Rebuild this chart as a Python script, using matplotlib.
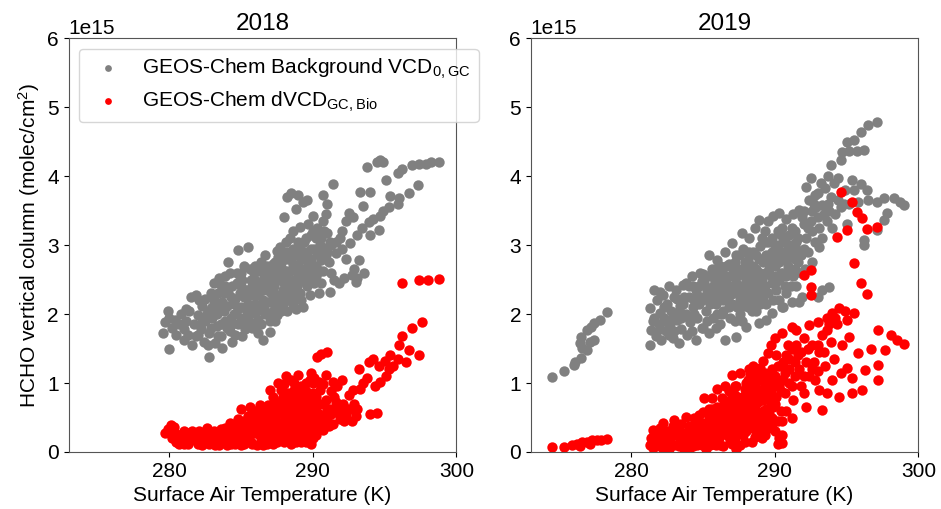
import numpy as np
import matplotlib.pyplot as plt

plt.rcParams['font.family'] = ['Liberation Sans', 'DejaVu Sans']
plt.rcParams['mathtext.default'] = 'regular'

# (surface air temperature [K], HCHO column [1e15 molec/cm2])
bg_2018 = [
    (279.6,1.73),(279.7,1.88),(279.9,2.05),(280.0,1.95),(280.0,1.50),(280.2,1.80),(280.4,1.92),(280.5,1.70),
    (280.7,1.85),(280.8,2.00),(281.0,1.62),(281.0,1.78),(281.2,1.90),(281.3,1.70),(281.4,2.05),(281.5,2.25),
    (281.6,1.55),(281.7,1.85),(281.9,2.28),(281.9,1.68),(282.0,1.98),(282.2,1.78),(282.3,2.12),(282.4,1.60),
    (282.5,1.90),(282.7,2.05),(282.8,1.38),(282.8,1.72),(283.0,1.95),(283.1,2.20),(283.2,1.58),(283.3,1.82),
    (283.5,2.52),(283.5,2.05),(283.6,1.68),(283.7,1.51),(283.8,2.30),(283.9,1.90),(284.0,2.12),(284.1,2.75),
    (284.2,1.75),(284.4,1.59),(284.4,2.40),(284.5,2.00),(284.6,2.22),(284.8,2.93),(284.8,1.85),(285.0,2.60),
    (285.0,2.10),(285.1,1.68),(285.3,2.35),(285.4,1.95),(285.5,2.97),(285.5,2.15),(285.7,2.50),(285.8,1.80),
    (285.9,2.28),(286.0,2.70),(286.1,2.05),(286.2,1.92),(286.3,2.45),(286.4,2.62),(286.5,1.62),(286.5,2.20),
    (286.7,2.85),(286.8,2.35),(286.9,2.00),(287.0,1.74),(287.0,2.55),(287.1,2.18),(287.2,2.72),(287.3,2.40),
    (287.4,1.90),(287.5,2.92),(287.6,2.60),(287.7,2.97),(287.7,2.25),(287.8,2.05),(287.9,2.78),(288.0,2.45),
    (288.0,3.40),(288.1,3.05),(288.2,3.70),(288.2,2.62),(288.3,2.20),(288.4,2.90),(288.5,3.76),(288.5,2.40),
    (288.6,3.20),(288.7,2.70),(288.8,3.52),(288.8,2.08),(288.9,2.95),(289.0,3.72),(289.0,2.55),(289.1,3.26),
    (289.2,2.80),(289.3,2.10),(289.3,3.62),(289.4,3.05),(289.5,2.45),(289.6,3.65),(289.6,2.90),(289.7,3.30),
    (289.8,2.27),(289.8,2.70),(289.9,3.15),(290.0,3.42),(290.1,2.95),(290.2,2.55),(290.3,3.25),(290.4,2.30),
    (290.5,3.00),(290.6,2.78),(290.7,3.72),(290.7,3.35),(290.8,2.96),(291.0,3.60),(291.0,3.18),(291.1,2.75),
    (291.2,2.32),(291.3,3.00),(291.4,3.88),(291.5,2.50),(291.6,3.05),(291.8,2.45),(292.0,3.20),(292.0,2.95),
    (292.2,2.52),(292.3,3.35),(292.5,3.46),(292.6,3.03),(292.7,2.56),(292.8,3.40),(293.0,2.47),(293.1,3.15),
    (293.2,2.78),(293.3,3.77),(293.4,3.25),(293.5,3.56),(293.8,4.13),(293.9,3.33),(294.0,3.77),(294.0,3.15),
    (294.2,3.38),(294.5,4.21),(294.6,3.22),(294.7,3.42),(294.7,4.23),(294.9,4.20),(294.9,3.50),(295.1,3.94),
    (295.3,3.55),(295.4,3.71),(295.9,3.60),(295.9,4.05),(296.0,3.68),(296.2,4.10),(296.7,3.75),(296.9,4.16),
    (297.3,3.87),(297.4,4.17),(297.9,4.18),(298.2,4.20),(298.8,4.21),
    (284.3,1.95),(284.7,2.45),(285.2,2.25),(285.6,2.65),(285.9,2.02),(286.1,2.40),(286.6,2.55),(286.6,2.08),
    (287.1,2.30),(287.4,2.50),(287.6,2.15),(287.9,2.35),(288.1,2.55),(288.3,2.80),(288.5,2.30),(288.6,2.95),
    (288.9,2.40),(289.0,2.85),(289.2,2.50),(289.4,2.65),(289.5,3.10),(289.7,2.50),(290.0,2.60),(290.2,3.10),
    (290.4,2.85),(286.0,1.80),(285.3,1.78),(284.9,2.30),(283.4,2.30),(282.9,2.30),(283.9,2.55),(284.2,2.60),
    (285.8,2.40),(286.9,2.65),(287.2,2.05),(288.7,2.25),(289.9,2.95),(290.9,3.45),(290.6,3.10),(288.4,3.10),
    (287.8,2.85),(286.4,2.75),(283.0,2.10),(282.5,2.22),(281.2,2.08),
    (282.0,1.70),(282.3,1.88),(282.6,2.00),(282.9,1.80),(283.2,2.15),(283.6,1.85),(283.7,2.18),(284.0,1.80),
    (284.3,2.25),(284.6,1.70),(284.8,2.08),(285.1,2.50),(285.2,1.90),(285.5,2.35),(285.7,2.05),(285.9,2.60),
    (286.2,2.28),(286.4,1.85),(286.7,2.45),(286.9,2.18),(287.1,2.62),(287.3,2.30),(287.5,1.98),(287.7,2.50),
    (287.9,2.15),(288.1,2.35),(288.2,2.90),(288.4,2.62),(288.6,2.15),(288.7,2.50),(288.9,2.62),(289.1,2.30),
    (289.1,2.95),(289.3,2.80),(289.5,2.58),(289.7,2.75),(289.9,2.50),(290.0,3.20),(290.2,2.70),(290.5,2.62),
    (290.6,2.45),(290.8,3.20),(291.0,2.90),(286.0,2.15),(285.0,2.40),(284.5,2.15),(283.9,2.40),(283.3,2.00),
    (286.8,2.52),(287.4,2.75),(288.0,2.62),(288.8,2.85),(289.6,2.40),(287.0,1.90),(286.3,2.10),(285.6,1.88),
    (282.1,2.20),(282.7,1.55),(283.4,1.68),(283.8,2.05),(284.1,2.30),(284.4,1.85),(284.7,2.60),(285.0,1.95),
    (285.2,2.70),(285.4,2.05),(285.7,2.28),(286.0,2.50),(286.2,1.72),(286.5,2.35),(286.7,2.00),(287.0,2.42),
    (287.3,2.62),(287.5,2.20),(287.8,2.68),(288.0,2.30),(288.2,2.05),(288.4,2.48),(288.6,2.72),(288.8,2.35),
    (289.0,2.70),(289.2,2.20),(289.4,2.90),(289.6,2.62),(289.9,2.80),(290.1,2.45),(290.3,2.90),(290.5,3.15),
    (290.7,2.62),(290.9,2.85),(291.2,3.05),(291.3,2.60),(291.6,2.88),(291.9,3.10),(292.3,2.80),(292.9,2.65),
    (293.6,2.60),(293.1,2.52),(289.0,3.05),(288.6,2.85),(287.6,2.82),(286.8,2.70),(286.0,2.30),(284.9,2.55),
    (283.6,2.42),(283.1,2.45),
]

bio_2018 = [
    (279.7,0.27),(279.9,0.33),(280.1,0.39),(280.3,0.36),(280.2,0.20),(280.5,0.15),(280.7,0.25),(281.0,0.12),
    (281.2,0.22),(281.5,0.18),(281.8,0.26),(282.0,0.12),(282.2,0.22),(282.5,0.15),(282.7,0.28),(283.0,0.18),
    (283.2,0.10),(283.4,0.25),(283.6,0.33),(283.8,0.15),(284.0,0.22),(284.2,0.42),(284.3,0.12),(284.5,0.30),
    (284.7,0.20),(284.8,0.48),(285.0,0.10),(285.1,0.35),(285.3,0.22),(285.5,0.52),(285.6,0.65),(285.7,0.15),
    (285.8,0.38),(286.0,0.28),(286.1,0.10),(286.2,0.55),(286.3,0.68),(286.4,0.20),(286.5,0.42),(286.7,0.32),
    (286.8,0.12),(286.9,0.68),(287.0,0.50),(287.1,0.25),(287.2,0.80),(287.3,0.38),(287.5,0.15),(287.6,0.60),
    (287.6,1.00),(287.8,0.90),(287.8,0.30),(288.0,0.72),(288.0,0.45),(288.1,1.10),(288.2,0.20),(288.3,0.85),
    (288.4,0.55),(288.5,1.05),(288.5,0.12),(288.6,0.35),(288.7,0.70),(288.8,0.95),(288.9,0.25),(289.0,1.12),
    (289.0,0.50),(289.1,0.80),(289.2,0.15),(289.3,0.62),(289.4,0.38),(289.5,1.00),(289.5,0.88),(289.6,0.22),
    (289.7,0.70),(289.8,0.45),(289.9,1.15),(289.9,0.12),(290.0,0.85),(290.1,0.30),(290.2,0.60),(290.3,1.38),
    (290.4,1.02),(290.5,0.42),(290.6,1.42),(290.7,0.32),(290.7,0.98),(290.9,0.75),(291.0,1.45),(291.0,0.50),
    (291.2,0.62),(291.3,0.88),(291.4,0.40),(291.4,1.02),(291.6,0.58),(291.7,0.95),(291.9,0.48),(292.0,1.04),
    (292.1,0.70),(292.3,0.55),(292.5,0.82),(292.7,0.45),(292.8,0.90),(293.0,0.52),(293.1,0.62),(293.2,1.20),
    (293.3,0.92),(293.5,1.00),(293.8,1.08),(293.9,1.30),(294.0,0.55),(294.2,1.35),(294.3,0.95),(294.5,0.56),
    (294.6,1.25),(294.7,1.02),(295.0,1.32),(295.1,1.10),(295.3,1.20),(295.4,1.40),(295.6,1.25),(295.9,1.35),
    (296.0,1.55),(296.2,1.68),(296.2,2.45),(296.5,1.30),(296.7,1.48),(296.9,1.80),(297.4,1.41),(297.6,1.88),
    (297.4,2.49),(298.0,2.50),(298.8,2.51),
    (284.1,0.32),(284.6,0.40),(285.2,0.45),(285.4,0.30),(285.9,0.48),(286.2,0.35),(286.6,0.58),(286.9,0.40),
    (287.2,0.62),(287.4,0.48),(287.7,0.72),(287.9,0.55),(288.2,0.62),(288.6,0.80),(288.9,0.60),(289.2,0.95),
    (289.4,0.75),(289.7,0.55),(290.0,0.65),(289.2,0.40),(288.3,0.35),(287.3,0.20),(286.5,0.10),(285.2,0.12),
    (284.0,0.10),(283.1,0.30),(282.6,0.35),(281.0,0.30),(280.7,0.12),(285.6,0.28),(287.0,0.90),(288.0,0.98),
    (286.0,0.60),(285.0,0.62),
    (280.4,0.28),(280.9,0.20),(281.3,0.12),(281.6,0.30),(281.9,0.18),(282.3,0.10),(282.4,0.28),(282.9,0.24),
    (283.3,0.16),(283.5,0.10),(283.7,0.25),(283.9,0.35),(284.2,0.18),(284.4,0.25),(284.6,0.12),(284.9,0.28),
    (285.0,0.40),(285.3,0.35),(285.5,0.20),(285.8,0.12),(285.9,0.30),(286.1,0.45),(286.3,0.25),(286.6,0.18),
    (286.7,0.45),(286.9,0.25),(287.0,0.35),(287.2,0.12),(287.4,0.28),(287.5,0.72),(287.6,0.40),(287.8,0.20),
    (287.9,0.65),(288.1,0.28),(288.2,0.48),(288.4,0.70),(288.5,0.22),(288.6,0.62),(288.7,0.40),(288.8,0.15),
    (288.9,0.75),(289.1,0.30),(289.1,0.55),(289.3,0.45),(289.4,0.20),(289.5,0.62),(289.6,0.85),(289.8,0.30),
    (289.8,0.78),(290.0,0.20),(290.0,0.45),(290.2,0.80),(290.3,0.40),(290.5,0.70),(290.6,0.52),(291.1,0.38),
    (291.5,0.80),(291.8,0.68),(292.2,0.45),(292.4,0.62),(292.9,0.70),(290.9,1.12),(290.1,1.08),
    (281.4,0.28),(282.1,0.30),(282.8,0.12),(283.5,0.20),(284.3,0.35),(284.8,0.38),(285.3,0.28),(285.6,0.48),
    (286.0,0.38),(286.3,0.52),(286.5,0.30),(286.8,0.55),(287.1,0.45),(287.3,0.70),(287.5,0.55),(287.7,0.35),
    (287.9,0.80),(288.0,0.15),(288.1,0.40),(288.2,0.80),(288.4,0.45),(288.6,0.50),(288.7,0.90),(288.8,0.55),
    (289.0,0.30),(289.0,0.68),(289.2,0.85),(289.3,0.30),(289.4,0.55),(289.5,0.15),(289.6,0.72),(289.7,0.38),
    (289.9,0.55),(290.1,0.75),(290.2,0.25),(290.4,0.55),(290.5,0.90),(290.8,0.45),(291.0,0.62),(291.3,0.55),
    (291.6,0.72),(292.0,0.58),(292.6,0.62),(290.0,1.00),(289.8,1.05),(288.7,1.00),
]

bg_2019 = [
    (274.5,1.09),(275.3,1.17),(276.0,1.26),(276.1,1.31),(276.5,1.36),(276.6,1.51),(276.4,1.58),(276.9,1.48),
    (277.1,1.60),(277.4,1.62),(276.5,1.67),(276.9,1.77),(277.2,1.81),(277.4,1.87),(277.8,1.91),(278.3,2.03),
    (281.3,2.09),(281.3,1.55),(281.4,1.77),(281.5,1.90),(281.6,2.35),(281.7,1.68),(281.8,2.20),(281.9,1.85),
    (282.0,2.02),(282.1,1.62),(282.2,2.28),(282.3,1.95),(282.4,1.75),(282.5,2.15),(282.6,2.40),(282.7,1.85),
    (282.8,2.05),(282.9,1.65),(283.0,2.25),(283.1,2.35),(283.2,1.92),(283.3,1.58),(283.4,2.12),(283.5,1.78),
    (283.6,2.42),(283.8,2.45),(283.8,2.00),(283.9,1.70),(284.0,2.25),
    (284.1,1.88),(284.2,2.55),(284.3,2.10),(284.5,1.62),(284.5,2.35),(284.6,1.95),(284.8,2.60),(284.9,2.20),
    (285.0,1.80),(285.1,2.45),(285.2,2.05),(285.4,2.86),(285.4,1.72),(285.5,2.30),(285.6,2.65),(285.7,1.95),
    (285.8,2.50),(285.9,2.15),(286.0,2.78),(286.1,2.35),(286.2,1.85),(286.3,2.60),(286.4,2.05),(286.5,1.62),
    (286.5,2.90),(286.6,2.45),(286.7,2.20),(286.8,2.72),(286.9,1.95),(287.0,3.03),(287.0,2.55),(287.1,2.30),
    (287.3,1.67),(287.3,2.85),(287.4,2.10),(287.5,2.65),(287.6,2.40),(287.7,3.17),(287.7,1.90),(287.8,2.95),
    (287.9,2.55),
    (288.0,1.81),(288.0,2.25),(288.1,2.78),(288.2,3.10),(288.3,2.45),(288.4,2.05),(288.5,2.90),(288.6,3.25),
    (288.7,2.65),(288.8,2.25),(288.9,1.87),(288.9,3.36),(289.0,2.98),(289.1,2.50),(289.2,2.75),(289.3,3.20),
    (289.4,2.15),(289.5,3.35),(289.6,2.85),(289.7,2.55),(289.8,2.01),(289.8,3.10),(289.9,3.42),(290.0,2.70),
    (290.1,2.35),(290.2,3.00),(290.3,3.46),(290.4,2.85),(290.5,2.10),(290.5,3.25),(290.6,2.60),(290.8,3.38),
    (290.9,2.95),(291.0,3.15),(291.1,2.40),(291.2,2.17),(291.3,3.45),(291.4,2.80),(291.5,3.05),(291.7,3.51),
    (291.8,2.60),(291.9,2.25),(292.0,3.30),(292.0,2.95),
    (292.2,3.84),(292.5,3.97),(292.4,3.65),(292.6,3.50),(292.8,3.72),(293.0,3.40),(293.1,3.25),(293.3,3.58),
    (293.5,3.83),(293.6,3.35),(293.9,3.70),(293.9,4.16),(294.1,3.90),(294.2,3.45),(294.4,3.97),(294.6,4.23),
    (294.6,3.55),(294.7,4.35),(294.9,3.80),(295.0,4.49),(295.0,3.30),(295.2,3.60),(295.2,4.37),(295.4,3.95),
    (295.5,4.52),(295.7,4.36),(295.8,3.62),(296.0,4.64),(296.0,3.88),(296.2,4.38),(296.2,3.00),(296.2,3.07),
    (296.4,3.80),(296.5,4.74),(296.5,3.65),(297.1,4.78),(297.1,3.22),(297.1,3.63),(297.6,3.36),(297.8,3.46),
    (297.6,3.68),(298.3,3.68),(298.7,3.62),(299.0,3.58),
    (293.3,2.35),(293.8,2.39),(293.0,2.25),(291.7,2.17),(290.6,2.10),(289.4,1.91),
    (284.7,2.40),(285.3,2.55),(285.9,2.40),(286.3,2.25),(286.9,2.40),(287.2,2.75),(287.6,2.20),(288.2,2.60),
    (288.6,2.40),(288.9,2.80),(289.3,2.60),(289.6,3.05),(290.0,2.45),(290.3,2.75),(290.7,2.80),(291.0,2.60),
    (289.0,2.30),(288.0,2.90),(287.0,2.15),(286.0,2.00),(285.0,2.25),(290.4,3.15),(291.6,2.75),(292.2,3.10),
    (292.6,2.75),(293.1,2.97),(291.2,2.83),(291.5,2.95),(292.8,3.05),
    (281.6,1.95),(282.0,1.78),(282.3,2.10),(282.6,1.70),(282.9,1.95),(283.2,2.22),(283.5,1.95),(283.7,2.25),
    (284.0,2.40),(284.2,1.75),(284.4,2.00),(284.7,2.15),(284.9,1.80),(285.0,2.58),(285.3,1.90),(285.5,2.15),
    (285.7,2.40),(285.9,1.80),(286.1,2.55),(286.3,2.00),(286.6,2.70),(286.8,2.10),(287.0,2.38),(287.2,1.90),
    (287.4,2.55),(287.6,2.00),(287.8,2.30),(288.0,2.50),(288.1,2.10),(288.3,2.70),(288.4,2.30),(288.6,2.55),
    (288.7,2.05),(288.9,2.60),(289.0,2.15),(289.1,3.10),(289.2,2.40),(289.4,2.85),(289.5,2.30),(289.7,2.75),
    (289.8,2.45),(290.0,2.95),(290.1,2.55),(290.3,2.20),(290.4,2.60),(290.6,3.05),(290.7,2.40),(290.9,2.70),
    (291.1,3.00),(291.3,2.55),(291.4,3.20),(291.7,2.90),(291.9,3.40),(292.1,2.65),(292.3,3.25),(292.6,3.20),
    (292.9,3.55),(293.3,3.10),(293.7,3.60),(294.0,3.25),(294.4,3.65),(294.8,3.60),(295.5,3.80),(293.2,3.90),
    (293.7,4.00),(285.8,2.65),(286.5,2.35),(287.9,2.75),(288.5,2.15),(290.8,2.30),(291.5,2.40),
    (282.0,2.32),(282.5,1.88),(283.0,1.75),(283.3,2.05),(283.6,2.15),(284.0,1.95),(284.3,2.40),(284.6,2.28),
    (284.9,2.48),(285.2,2.22),(285.5,2.55),(285.8,2.25),(286.0,2.42),(286.2,2.70),(286.4,2.20),(286.7,2.55),
    (286.9,2.28),(287.1,2.65),(287.3,2.45),(287.5,2.85),(287.7,2.60),(287.8,2.12),(288.0,2.65),(288.2,2.90),
    (288.3,2.20),(288.5,2.70),(288.7,2.85),(288.8,2.45),(289.0,2.60),(289.1,2.80),(289.3,2.40),(289.4,3.05),
    (289.6,2.65),(289.8,2.90),(289.9,2.20),(290.1,2.80),(290.2,3.20),(290.3,2.50),(290.5,2.90),(290.7,3.10),
    (290.8,2.55),(291.0,2.90),(291.2,3.25),(291.4,2.65),(291.6,3.10),(291.8,2.85),(292.0,3.50),(292.3,2.90),
    (292.5,3.35),(292.7,3.60),(293.0,3.75),(293.4,3.45),(293.8,3.50),(289.2,2.20),(288.2,2.40),(287.3,2.30),
    (286.3,2.45),(285.3,2.35),(284.4,2.20),
]

bio_2019 = [
    (274.5,0.07),(275.3,0.07),(275.9,0.10),(276.2,0.12),(276.6,0.14),(276.9,0.15),(277.3,0.17),(277.6,0.17),
    (277.9,0.18),(278.3,0.19),(276.4,0.08),(277.1,0.12),
    (281.3,0.10),(281.4,0.20),(281.5,0.06),(281.7,0.15),(281.8,0.30),(282.0,0.08),(282.1,0.22),(282.2,0.42),
    (282.3,0.12),(282.5,0.30),(282.6,0.05),(282.7,0.18),(282.9,0.38),(283.0,0.46),(283.0,0.10),(283.2,0.25),
    (283.4,0.15),(283.5,0.40),(283.7,0.05),(283.8,0.51),(283.8,0.28),(284.0,0.18),(284.2,0.38),(284.3,0.08),
    (284.5,0.25),(284.7,0.53),(284.7,0.45),(284.8,0.15),(285.0,0.35),(285.1,0.78),(285.2,0.05),(285.3,0.22),
    (285.4,0.50),(285.6,0.78),(285.6,0.62),(285.7,0.12),(285.8,0.35),(286.0,0.45),(286.1,0.20),(286.3,0.78),
    (286.3,0.65),(286.4,0.08),(286.5,0.30),(286.6,0.52),(286.8,0.88),(286.9,0.18),(287.0,1.12),(287.0,0.70),
    (287.1,0.40),(287.3,0.05),(287.3,0.95),(287.4,0.58),(287.5,0.28),(287.6,1.15),(287.7,0.80),(287.8,0.45),
    (287.9,0.15),(288.0,1.00),(288.1,0.65),(288.2,0.35),(288.3,1.13),(288.4,0.85),(288.5,0.50),(288.6,0.22),
    (288.7,1.05),(288.8,0.72),(288.9,1.15),(289.0,0.40),(289.1,0.90),(289.2,0.60),(289.3,0.25),(289.4,1.10),
    (289.5,1.43),(289.5,0.78),(289.7,1.55),(289.8,0.50),(289.9,1.00),(290.0,1.65),(290.0,0.70),(290.2,1.25),
    (290.3,0.20),(290.4,0.88),(290.5,1.72),(290.5,0.13),(290.6,1.05),(290.8,0.60),
    (284.0,0.38),(284.4,0.50),(285.0,0.58),(285.5,0.40),(286.0,0.65),(286.5,0.70),(286.9,0.50),(287.2,0.82),
    (287.6,0.65),(288.0,0.85),(288.3,0.58),(288.6,0.95),(289.0,0.80),(289.3,0.95),(289.7,0.85),(290.1,0.95),
    (288.8,0.30),(287.8,0.25),(286.8,0.30),(285.9,0.20),(284.9,0.10),(289.6,0.35),(290.2,0.45),(287.2,0.20),
    (288.2,1.20),(289.0,1.22),
    (291.0,1.35),(291.2,1.81),(291.2,1.50),(291.2,0.49),(291.4,1.10),(291.5,1.77),(291.6,1.40),(291.8,0.95),
    (292.0,2.56),(292.0,1.65),(292.2,0.65),(292.2,1.30),(292.4,1.84),(292.5,2.64),(292.5,2.39),(292.5,2.27),
    (292.6,1.55),(292.8,1.05),(293.0,1.88),(293.1,0.90),(293.1,1.45),(293.3,0.61),(293.3,1.70),(293.5,1.25),
    (293.6,1.77),(293.6,0.85),(293.6,1.95),(293.9,1.60),(294.0,2.02),(294.1,1.35),(294.3,3.12),(294.3,1.85),
    (294.5,2.09),(294.5,0.80),(294.6,3.77),(294.7,1.55),(295.0,1.22),(295.0,1.92),(295.0,3.22),(295.2,1.67),
    (295.4,1.07),(295.4,3.62),(295.4,0.85),(295.5,2.74),(295.5,2.01),(295.7,3.48),(295.8,1.43),(296.0,2.45),
    (296.1,3.39),(296.1,0.90),(296.3,1.19),(296.4,2.29),(296.4,3.24),(296.7,1.50),(297.1,3.26),(297.2,1.77),
    (297.2,1.26),(297.2,1.04),(297.7,1.48),(298.1,1.70),(298.5,1.62),(299.0,1.57),
    (281.6,0.25),(281.9,0.12),(282.2,0.05),(282.4,0.20),(282.8,0.12),(283.1,0.32),(283.3,0.08),(283.6,0.22),
    (283.9,0.12),(284.1,0.28),(284.4,0.18),(284.6,0.35),(284.9,0.25),(285.1,0.15),(285.2,0.42),(285.5,0.28),
    (285.7,0.52),(285.9,0.10),(286.1,0.35),(286.2,0.55),(286.4,0.42),(286.7,0.25),(286.8,0.62),(287.0,0.12),
    (287.1,0.28),(287.3,0.45),(287.4,0.75),(287.5,0.38),(287.6,0.10),(287.8,0.58),(287.9,0.92),(288.0,0.30),
    (288.1,0.48),(288.3,0.75),(288.4,0.15),(288.5,0.35),(288.6,0.62),(288.7,0.85),(288.9,0.50),(289.0,1.05),
    (289.1,0.20),(289.2,0.75),(289.3,0.48),(289.4,0.62),(289.5,1.00),(289.6,0.55),(289.8,1.20),(289.9,0.65),
    (290.0,0.30),(290.1,1.40),(290.3,1.05),(290.4,0.60),(290.6,1.30),(290.7,0.85),(290.9,1.55),(290.2,0.12),
    (290.5,0.25),(286.0,0.92),(286.5,0.95),(285.4,0.62),(288.5,1.25),(289.2,1.32),(291.0,1.00),(291.3,0.75),
    (291.7,1.20),(292.0,0.85),(292.4,1.10),(292.7,1.30),(293.0,1.18),(294.0,1.05),(294.6,1.15),
    (281.5,0.32),(282.0,0.35),(282.5,0.15),(282.9,0.25),(283.3,0.35),(283.6,0.12),(284.0,0.05),(284.3,0.30),
    (284.6,0.10),(284.9,0.40),(285.2,0.30),(285.5,0.10),(285.8,0.55),(286.0,0.25),(286.2,0.10),(286.4,0.55),
    (286.6,0.38),(286.9,0.75),(287.1,0.55),(287.2,0.95),(287.5,0.50),(287.7,0.35),(287.9,0.70),(288.0,0.50),
    (288.1,1.05),(288.2,0.80),(288.4,0.40),(288.5,0.95),(288.6,0.75),(288.7,0.30),(288.8,0.55),(288.9,0.90),
    (289.1,1.10),(289.2,0.45),(289.3,0.80),(289.4,0.35),(289.6,0.95),(289.7,0.70),(289.8,0.40),(290.0,1.10),
    (290.1,0.80),(290.3,0.95),(290.4,1.25),(290.5,0.45),(290.7,1.15),(290.8,1.40),(291.0,1.20),(291.2,0.95),
    (291.4,1.30),(291.5,1.55),(291.8,1.45),(292.0,1.10),(292.3,1.50),(292.6,1.20),(293.0,1.55),(293.4,1.45),
    (293.8,1.85),(294.2,1.95),(294.9,2.05),(289.3,1.15),(288.8,1.20),
]

years = ['2018', '2019']
background = [bg_2018, bg_2019]
biogenic = [bio_2018, bio_2019]

fig = plt.figure(figsize=(9.41, 5.09), dpi=100)
axes = [fig.add_axes([0.073, 0.112, 0.412, 0.813]),
        fig.add_axes([0.564, 0.112, 0.412, 0.813])]

for ax, year, bg, bio in zip(axes, years, background, biogenic):
    bg = np.array(bg)
    bio = np.array(bio)
    ax.scatter(bg[:, 0], bg[:, 1] * 1e15, s=56, color='gray', linewidths=0,
               label='GEOS-Chem Background VCD$_{0,GC}$')
    ax.scatter(bio[:, 0], bio[:, 1] * 1e15, s=56, color='red', linewidths=0,
               label='GEOS-Chem dVCD$_{GC,Bio}$')
    ax.set_xlim(273, 300)
    ax.set_ylim(0, 6e15)
    ax.set_xticks([280, 290, 300])
    ax.set_title(year, fontsize=17.5)
    ax.set_xlabel('Surface Air Temperature (K)', fontsize=15)
    ax.tick_params(labelsize=15)
    ax.yaxis.get_offset_text().set_fontsize(15)
    for sp in ax.spines.values():
        sp.set_color('#555555')

axes[0].set_ylabel('HCHO vertical column (molec/cm$^2$)', fontsize=15)
axes[0].legend(loc='upper left', fontsize=15, markerscale=0.65, handletextpad=0.6,
               borderpad=0.4, labelspacing=0.4, framealpha=0.8)

fig.savefig('out.png', dpi=100)
